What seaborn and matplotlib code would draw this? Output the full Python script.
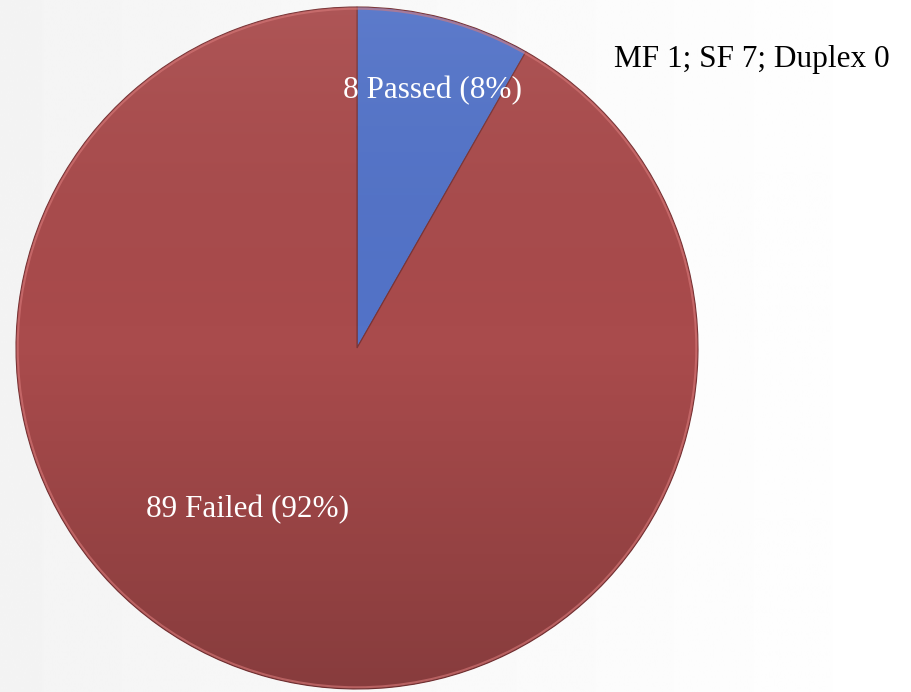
import numpy as np
import matplotlib
matplotlib.use("Agg")
import matplotlib.pyplot as plt
import seaborn as sns
from matplotlib.patches import Circle

# Data
categories = ["Passed", "Failed"]
counts = [8, 89]
colors = ["#5373c8", "#a94b4c"]
title = "MF 1; SF 7; Duplex 0"

sns.set_theme(style="white")
plt.rcParams["font.family"] = ["Liberation Serif", "DejaVu Serif"]

fig = plt.figure(figsize=(9.12, 6.92), dpi=100)

# soft light background gradient (left grey -> right white)
bg = fig.add_axes([0, 0, 1, 1], zorder=0)
grad = np.tile(np.linspace(0.955, 1.0, 512), (2, 1))
bg.imshow(grad, cmap="gray", vmin=0, vmax=1, aspect="auto", extent=[0, 1, 0, 1],
          interpolation="bilinear")
bg.axis("off")

# pie axes: centre ~ (357, 348) px, radius ~ 341 px
W, H = 912, 692
cx, cy, r = 357, 348, 341
ax = fig.add_axes([(cx - r) / W, (H - cy - r) / H, 2 * r / W, 2 * r / H], zorder=1)
wedges, _ = ax.pie(counts, colors=colors, startangle=90, counterclock=False,
                   wedgeprops=dict(edgecolor="#7a3436", linewidth=0.8))
ax.set_xlim(-1, 1)
ax.set_ylim(-1, 1)
ax.set_aspect("equal")

# vertical shading: lighter top, darker bottom
shade = np.linspace(0.0, 1.0, 256).reshape(-1, 1)
cmap = matplotlib.colors.LinearSegmentedColormap.from_list(
    "shade", [(1, 1, 1, 0.06), (0, 0, 0, 0.0), (0, 0, 0, 0.2)])
im = ax.imshow(shade, cmap=cmap, extent=[-1, 1, -1, 1], origin="upper",
               aspect="auto", zorder=3)
clip = Circle((0, 0), 1.0, transform=ax.transData)
im.set_clip_path(clip)

# light rim like the bevelled original
ax.add_patch(Circle((0, 0), 0.995, fill=False, edgecolor="#d87a7a",
                    linewidth=1.5, alpha=0.6, zorder=4))

total = sum(counts)
label_pos = [(0.22, 0.755), (-0.32, -0.475)]
for cat, n, (x, y) in zip(categories, counts, label_pos):
    pct = round(100 * n / total)
    ax.text(x, y, f"{n} {cat} ({pct}%)", ha="center", va="center",
            color="white", fontsize=22.5, zorder=5)

fig.text(614 / W, 1 - 60 / H, title, ha="left", va="center",
         fontsize=22.5, color="black")

fig.savefig("out.png", dpi=100)
